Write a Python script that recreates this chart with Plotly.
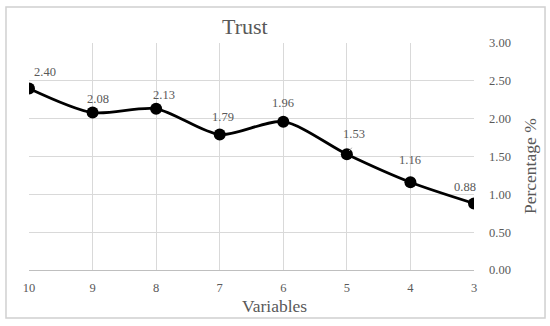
import plotly.graph_objects as go

categories = ["10", "9", "8", "7", "6", "5", "4", "3"]
values = [2.40, 2.08, 2.13, 1.79, 1.96, 1.53, 1.16, 0.88]
labels = ["2.40", "2.08", "2.13", "1.79", "1.96", "1.53", "1.16", "0.88"]
# label offsets (px) relative to each point
label_dx = [16, 5, 8, 3, 0, 7, 0, -9]
label_dy = [16, 14, 14, 18, 19, 20, 22, 16]

FONT = "Liberation Serif"
GRAY = "#595959"
GRID = "#d9d9d9"
TS = 12.5

fig = go.Figure()
fig.add_trace(go.Scatter(
    x=categories, y=values, mode="lines+markers",
    line=dict(color="black", width=2.8, shape="spline", smoothing=0.8),
    marker=dict(color="black", size=12),
    showlegend=False, hoverinfo="skip",
))

for i, (v, t, dx, dy) in enumerate(zip(values, labels, label_dx, label_dy)):
    fig.add_annotation(x=i, y=v, text=t, showarrow=False,
                       xshift=dx, yshift=dy, xanchor="center", yanchor="middle",
                       font=dict(family=FONT, size=TS, color=GRAY))

# leader line for 1.53
i153 = labels.index("1.53")
fig.add_annotation(x=i153, y=values[i153], text="", showarrow=True, arrowhead=0,
                   arrowwidth=1, arrowcolor="#a6a6a6", ax=6, ay=-8,
                   standoff=4)

fig.update_layout(
    width=550, height=326,
    margin=dict(l=29, r=76, t=43, b=56, autoexpand=False),
    paper_bgcolor="white", plot_bgcolor="white",
    font=dict(family=FONT, color=GRAY),
    xaxis=dict(type="category", range=[0, 7], showgrid=True, gridcolor=GRID,
               gridwidth=1, showline=True, linecolor="#bfbfbf", linewidth=1,
               ticks="", tickfont=dict(size=TS, color=GRAY), zeroline=False,
               automargin=False, ticklabelstandoff=6, fixedrange=True),
    yaxis=dict(side="right", range=[0, 3], dtick=0.5, tickformat=".2f",
               showgrid=True, gridcolor=GRID, gridwidth=1, zeroline=False,
               showline=False, ticks="", ticklabelstandoff=14, automargin=False,
               tickfont=dict(size=TS, color=GRAY), fixedrange=True),
    shapes=[dict(type="rect", xref="paper", yref="paper",
                 x0=-0.0517, x1=1.1596, y0=-0.2115, y1=1.1586,
                 line=dict(color="#d0d0d0", width=1.5), layer="above")],
)

fig.add_annotation(text="Trust", xref="paper", yref="paper",
                   x=(245 - 29) / 445, y=(270 - 26) / 227, showarrow=False,
                   xanchor="center", yanchor="middle",
                   font=dict(family=FONT, size=22, color=GRAY))
fig.add_annotation(text="Variables", xref="paper", yref="paper",
                   x=(274 - 29) / 445, y=(270 - 306) / 227, showarrow=False,
                   xanchor="center", yanchor="middle",
                   font=dict(family=FONT, size=17.5, color=GRAY))
fig.add_annotation(text="Percentage %", xref="paper", yref="paper",
                   x=(530 - 29) / 445, y=(270 - 166) / 227, showarrow=False,
                   xanchor="center", yanchor="middle", textangle=-90,
                   font=dict(family=FONT, size=17.5, color=GRAY))

fig.write_html("out.html", config={"displayModeBar": False},
               post_script="document.body.style.margin='0px';")
